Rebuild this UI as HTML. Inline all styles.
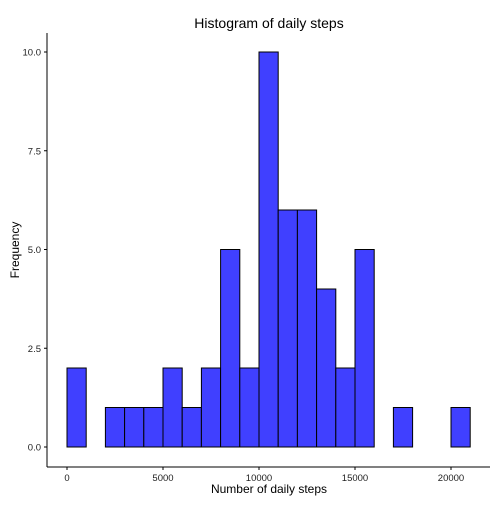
<!DOCTYPE html>
<html><head><meta charset="utf-8"><style>
body{margin:0;background:#fff}
svg text{font-family:"Liberation Sans",Arial,sans-serif}
</style></head><body>
<svg id="c" width="504" height="504">
<rect width="504" height="504" fill="#fff"/>
<text x="269" y="28" font-size="14" text-anchor="middle">Histogram of daily steps</text>
<g id="bars"></g>
<line x1="47" y1="33" x2="47" y2="467" stroke="#000" stroke-width="1"/>
<line x1="47" y1="467" x2="490" y2="467" stroke="#000" stroke-width="1"/>
<g id="yt"></g><g id="xt"></g>
<text x="269" y="493" font-size="12" text-anchor="middle">Number of daily steps</text>
<text transform="translate(19,250) rotate(-90)" font-size="12" text-anchor="middle">Frequency</text>
</svg>
<script>
const binStarts=[0,1000,2000,3000,4000,5000,6000,7000,8000,9000,10000,11000,12000,13000,14000,15000,16000,17000,18000,19000,20000];
const counts=[2,0,1,1,1,2,1,2,5,2,10,6,6,4,2,5,0,1,0,0,1];
const binWidth=1000;
const yTicks=[0,2.5,5,7.5,10];
const yTickLabels=["0.0","2.5","5.0","7.5","10.0"];
const xTicks=[0,5000,10000,15000,20000];
const xTickLabels=["0","5000","10000","15000","20000"];
const NS="http://www.w3.org/2000/svg";
const xs=v=>67+v*0.0192;
const ys=v=>447-v*39.5;
const bars=document.getElementById('bars');
binStarts.forEach((b,i)=>{
 const r=document.createElementNS(NS,'rect');
 r.setAttribute('x',xs(b));r.setAttribute('width',xs(b+binWidth)-xs(b));
 r.setAttribute('y',ys(counts[i]));r.setAttribute('height',ys(0)-ys(counts[i]));
 r.setAttribute('fill','#4040ff');r.setAttribute('stroke','#000');r.setAttribute('stroke-width','1');
 
 
 bars.appendChild(r);
});
const yt=document.getElementById('yt');
yTicks.forEach((v,i)=>{
 const l=document.createElementNS(NS,'line');
 l.setAttribute('x1',44);l.setAttribute('x2',47);l.setAttribute('y1',ys(v));l.setAttribute('y2',ys(v));l.setAttribute('stroke','#000');
 
 
 yt.appendChild(l);
 const t=document.createElementNS(NS,'text');
 t.setAttribute('x',41);t.setAttribute('y',ys(v)+3.5);t.setAttribute('font-size','9.5');t.setAttribute('text-anchor','end');t.setAttribute('fill','#222');
 t.textContent=yTickLabels[i];
 
 
 yt.appendChild(t);
});
const xt=document.getElementById('xt');
xTicks.forEach((v,i)=>{
 const l=document.createElementNS(NS,'line');
 l.setAttribute('x1',xs(v));l.setAttribute('x2',xs(v));l.setAttribute('y1',467);l.setAttribute('y2',470);l.setAttribute('stroke','#000');
 
 
 xt.appendChild(l);
 const t=document.createElementNS(NS,'text');
 t.setAttribute('x',xs(v));t.setAttribute('y',481);t.setAttribute('font-size','9.5');t.setAttribute('text-anchor','middle');t.setAttribute('fill','#222');
 t.textContent=xTickLabels[i];
 
 
 xt.appendChild(t);
});
</script>
</body></html>
